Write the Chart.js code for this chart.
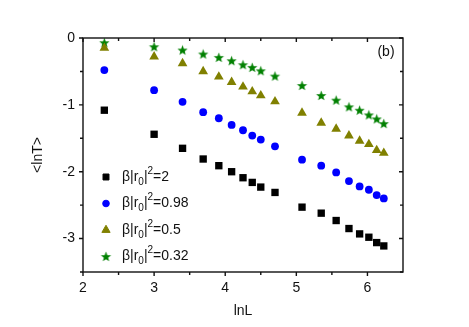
<!DOCTYPE html>
<html>
<head>
<meta charset="utf-8">
<script src="https://cdn.jsdelivr.net/npm/chart.js@4"></script>
<style>
	html, body { margin: 0; padding: 0; background: #fff; }
	#wrap { width: 469px; height: 327px; }
</style>
</head>
<body>
<div id="wrap"><canvas id="chartLnT" width="469" height="327"></canvas></div>
<script>
// lnL for L = 10,20,30,40,50,60,70,80,90,110,160,210,260,310,360,410,460,510
var lnL = [2.30, 3.00, 3.40, 3.69, 3.91, 4.09, 4.25, 4.38, 4.50, 4.70, 5.08, 5.35, 5.56, 5.74, 5.89, 6.02, 6.13, 6.23];

var beta2 = [-1.08, -1.44, -1.65, -1.81, -1.91, -2.00, -2.09, -2.16, -2.23, -2.31, -2.53, -2.62, -2.73, -2.85, -2.93, -2.98, -3.06, -3.11];
var beta098 = [-0.48, -0.78, -0.955, -1.11, -1.20, -1.30, -1.38, -1.46, -1.52, -1.62, -1.82, -1.91, -2.01, -2.14, -2.22, -2.27, -2.35, -2.40];
var beta05 = [-0.15, -0.28, -0.38, -0.50, -0.58, -0.66, -0.73, -0.80, -0.86, -0.95, -1.12, -1.27, -1.36, -1.46, -1.54, -1.59, -1.68, -1.72];
var beta032 = [-0.07, -0.13, -0.18, -0.24, -0.29, -0.34, -0.40, -0.44, -0.49, -0.57, -0.71, -0.86, -0.93, -1.03, -1.08, -1.15, -1.21, -1.28];

var legendValues = ['2', '0.98', '0.5', '0.32'];
var xTicks = [2, 3, 4, 5, 6];
var yTicks = [0, -1, -2, -3];
var xMinor = [2.5, 3.5, 4.5, 5.5];
var yMinor = [-0.5, -1.5, -2.5, -3.5];

var FONT = '"Liberation Sans", Arial, sans-serif';

function pontos(ys) {
	return ys.map(function(y, i) { return {x: lnL[i], y: y}; });
}

// filled five point star, Chart.js only has the asterisk one
function criaEstrela(cor, r) {
	var c = document.createElement('canvas');
	var s = Math.ceil(r * 2 + 2);
	c.width = s; c.height = s;
	var g = c.getContext('2d');
	g.translate(s / 2, s / 2 + 0.5);
	g.beginPath();
	for (var k = 0; k < 10; k++) {
		var rr = (k % 2 === 0) ? r : r * 0.42;
		var a = -Math.PI / 2 + k * Math.PI / 5;
		g.lineTo(rr * Math.cos(a), rr * Math.sin(a));
	}
	g.closePath();
	g.fillStyle = cor;
	g.fill();
	return c;
}
var estrela = criaEstrela('#008000', 5.4);

var series = [
	{ ys: beta2, color: '#000000', style: 'rect', radius: 5.2 },
	{ ys: beta098, color: '#0000ff', style: 'circle', radius: 3.9 },
	{ ys: beta05, color: '#808000', style: 'triangle', radius: 5.6 },
	{ ys: beta032, color: '#008000', style: estrela, radius: 5 }
];

function drawSymbol(ctx, s, x, y) {
	if (s.style === estrela) {
		ctx.drawImage(estrela, x - estrela.width / 2, y - estrela.height / 2);
		return;
	}
	ctx.save();
	ctx.fillStyle = s.color;
	ctx.strokeStyle = s.color;
	ctx.lineWidth = 1;
	Chart.helpers.drawPoint(ctx, {pointStyle: s.style, radius: s.style === 'rect' ? 4.2 : s.radius * 0.85, borderWidth: 1, rotation: 0}, x, y);
	ctx.restore();
}

var molduraPlugin = {
	id: 'moldura',
	afterDatasetsDraw: function(chart) {
		var ctx = chart.ctx, a = chart.chartArea;
		var sx = chart.scales.x, sy = chart.scales.y;
		ctx.save();
		ctx.strokeStyle = '#111';
		ctx.lineWidth = 1.4;
		ctx.strokeRect(a.left, a.top, a.right - a.left, a.bottom - a.top);
		ctx.beginPath();
		function tx(v, len) {
			var p = sx.getPixelForValue(v);
			ctx.moveTo(p, a.bottom); ctx.lineTo(p, a.bottom + len);
			ctx.moveTo(p, a.top); ctx.lineTo(p, a.top + len);
		}
		function ty(v, len) {
			var p = sy.getPixelForValue(v);
			ctx.moveTo(a.left, p); ctx.lineTo(a.left - len, p);
			ctx.moveTo(a.right, p); ctx.lineTo(a.right - len, p);
		}
		xTicks.forEach(function(v) { tx(v, 4); });
		xMinor.forEach(function(v) { tx(v, 3); });
		yTicks.forEach(function(v) { ty(v, 4); });
		yMinor.forEach(function(v) { ty(v, 3); });
		ctx.stroke();

		ctx.fillStyle = '#111';
		ctx.font = '14px ' + FONT;
		ctx.textAlign = 'center';
		ctx.textBaseline = 'middle';
		ctx.fillText('(b)', a.right - 17, a.top + 14);
		ctx.restore();
	}
};

var legendaPlugin = {
	id: 'legenda',
	afterDraw: function(chart) {
		var ctx = chart.ctx, a = chart.chartArea;
		ctx.save();
		ctx.fillStyle = '#111';
		ctx.textBaseline = 'middle';
		ctx.textAlign = 'left';
		series.forEach(function(s, i) {
			var y = a.top + 139 + i * 26.5;
			drawSymbol(ctx, s, a.left + 23, y);
			var x = a.left + 39;
			ctx.font = '14px ' + FONT;
			ctx.fillText('\u03b2|r', x, y);
			x += ctx.measureText('\u03b2|r').width;
			ctx.font = '10px ' + FONT;
			ctx.fillText('0', x, y + 5);
			x += ctx.measureText('0').width;
			ctx.font = '14px ' + FONT;
			ctx.fillText('|', x, y);
			x += ctx.measureText('|').width;
			ctx.font = '10px ' + FONT;
			ctx.fillText('2', x, y - 6);
			x += ctx.measureText('2').width;
			ctx.font = '14px ' + FONT;
			ctx.fillText('=' + legendValues[i], x, y);
		});
		ctx.restore();
	}
};

var ctx = document.getElementById('chartLnT');
var grafico = new Chart(ctx, {
	type: 'scatter',
	data: {
		datasets: series.map(function(s) {
			return {
				data: pontos(s.ys),
				pointStyle: s.style,
				pointRadius: s.radius,
				pointHoverRadius: s.radius,
				backgroundColor: s.color,
				borderColor: s.color,
				borderWidth: 0
			};
		})
	},
	options: {
		responsive: false,
		animation: false,
		events: [],
		layout: { padding: { top: 38, right: 66, left: 0, bottom: 0 } },
		plugins: { legend: { display: false }, tooltip: { enabled: false } },
		scales: {
			x: {
				type: 'linear',
				min: 2, max: 6.5,
				afterFit: function(scale) { scale.height = 55; },
				afterBuildTicks: function(scale) { scale.ticks = xTicks.map(function(v) { return {value: v}; }); },
				grid: { display: false, drawTicks: false },
				border: { display: false },
				ticks: { padding: 8, color: '#111', font: { family: FONT, size: 14 }, maxRotation: 0 },
				title: { display: true, text: 'lnL', color: '#111', font: { family: FONT, size: 14 }, padding: { top: 0, bottom: 7 } }
			},
			y: {
				type: 'linear',
				min: -3.5, max: 0,
				afterFit: function(scale) { scale.width = 83; },
				afterBuildTicks: function(scale) { scale.ticks = yTicks.map(function(v) { return {value: v}; }); },
				grid: { display: false, drawTicks: false },
				border: { display: false },
				ticks: { padding: 8, color: '#111', font: { family: FONT, size: 14 } },
				title: { display: true, text: '<lnT>', color: '#111', font: { family: FONT, size: 14 }, padding: { top: 30, bottom: 0 } }
			}
		}
	},
	plugins: [molduraPlugin, legendaPlugin]
});
</script>
</body>
</html>
